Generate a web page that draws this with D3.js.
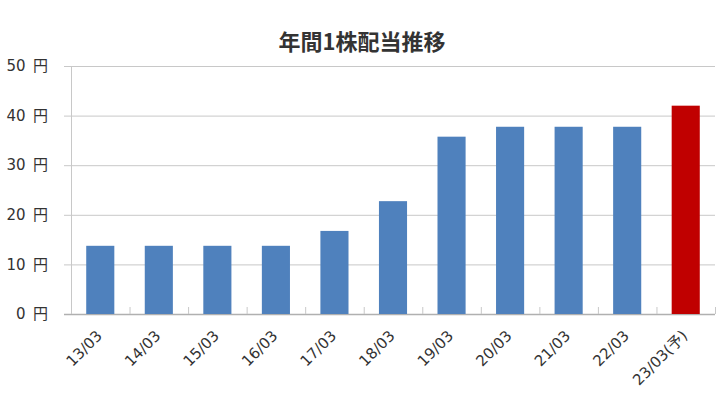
<!DOCTYPE html>
<html>
<head>
<meta charset="utf-8">
<script src="https://cdn.jsdelivr.net/npm/d3@7"></script>
<style>
  body { margin: 0; background: #fff; }
</style>
</head>
<body>
<div class="chart"></div>
<script>
// fiscal years (March year-end)
const years = ["13/03", "14/03", "15/03", "16/03", "17/03", "18/03", "19/03", "20/03", "21/03", "22/03", "23/03(予)"];
const dividends = [13.75, 13.75, 13.75, 13.75, 16.75, 22.75, 35.75, 37.75, 37.75, 37.75, 42];
const yTicks = [0, 10, 20, 30, 40, 50];

const labelFont = "'DejaVu Sans', 'Noto Sans CJK JP', sans-serif";

const svg = d3.select(".chart")
  .append("svg")
  .attr("width", 727)
  .attr("height", 406);

const margin = { top: 66, right: 12, bottom: 92, left: 71 };
const width = 727 - margin.left - margin.right;
const height = 406 - margin.top - margin.bottom;

svg.append("text")
  .attr("x", 362)
  .attr("y", 50)
  .attr("text-anchor", "middle")
  .attr("font-family", "'Noto Sans CJK JP', sans-serif")
  .attr("font-weight", "bold")
  .attr("font-size", 22)
  .attr("fill", "#333")
  .text("年間1株配当推移");

const chart = svg.append("g")
  .attr("transform", `translate(${margin.left},${margin.top})`);

const xScale = d3.scaleBand()
  .domain(years)
  .range([0, width])
  .paddingInner(0.52)
  .paddingOuter(0.26);

const yScale = d3.scaleLinear()
  .domain([0, 50])
  .range([height, 0]);

// gridlines
chart.selectAll("line.grid")
  .data(yTicks)
  .join("line")
  .attr("class", "grid")
  .attr("x1", -7)
  .attr("x2", width)
  .attr("y1", d => yScale(d) + 0.5)
  .attr("y2", d => yScale(d) + 0.5)
  .attr("stroke", d => d === 0 ? "#b0b0b0" : "#c8c8c8")
  .attr("stroke-width", d => d === 0 ? 1.5 : 1);

// vertical axis line
chart.append("line")
  .attr("x1", 0.5).attr("x2", 0.5)
  .attr("y1", 0).attr("y2", height)
  .attr("stroke", "#c8c8c8");

// y labels
chart.selectAll("text.ylab")
  .data(yTicks)
  .join("text")
  .attr("class", "ylab")
  .attr("x", -23)
  .attr("y", d => yScale(d))
  .attr("dy", "0.35em")
  .attr("text-anchor", "end")
  .attr("font-family", labelFont)
  .attr("font-size", 15)
  .attr("fill", "#333")
  .text(d => `${d}\u2002円`);

// bars
chart.selectAll("rect.bar")
  .data(dividends)
  .join("rect")
  .attr("class", "bar")
  .attr("x", (d, i) => xScale(years[i]))
  .attr("y", d => yScale(d))
  .attr("width", xScale.bandwidth())
  .attr("height", d => height - yScale(d))
  .attr("fill", (d, i) => i === years.length - 1 ? "#c00000" : "#4f81bd");

// category ticks at band boundaries
chart.selectAll("line.xtick")
  .data(d3.range(years.length + 1))
  .join("line")
  .attr("class", "xtick")
  .attr("x1", i => i * width / years.length + 0.5)
  .attr("x2", i => i * width / years.length + 0.5)
  .attr("y1", height - 7)
  .attr("y2", height)
  .attr("stroke", "#c8c8c8");

// x labels, rotated
chart.selectAll("text.xlab")
  .data(years)
  .join("text")
  .attr("class", "xlab")
  .attr("text-anchor", "end")
  .attr("transform", d => `translate(${xScale(d) + xScale.bandwidth() / 2 - 1},${height + 19}) rotate(-45)`)
  .attr("dy", "0.35em")
  .attr("font-family", labelFont)
  .attr("font-size", 15)
  .attr("fill", "#333")
  .text(d => d);
</script>
</body>
</html>
